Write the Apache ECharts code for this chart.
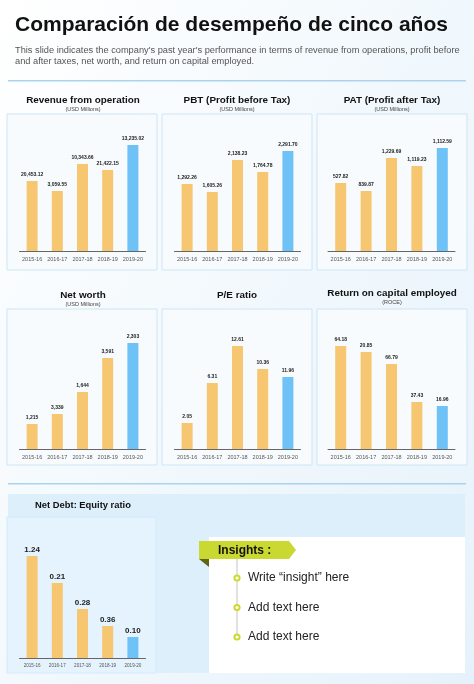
<!DOCTYPE html>
<html><head><meta charset="utf-8">
<script src="https://cdn.jsdelivr.net/npm/echarts@6/dist/echarts.min.js"></script>
<style>
html,body{margin:0;padding:0;width:474px;height:684px;overflow:hidden;background:linear-gradient(120deg,#ffffff 0%,#f3f9fd 45%,#e6f2fb 100%);}
#c{width:474px;height:684px;}
</style>
</head><body><div id="c"></div><script>
// ---------- data ----------
const categories = ['2015-16', '2016-17', '2017-18', '2018-19', '2019-20'];

const revenueLabels = ['20,453.12', '3,059.55', '10,343.66', '21,422.15', '13,235.02'];
const revenueHeights = [70, 60, 87, 81, 106];

const pbtLabels = ['1,292.26', '1,605.26', '2,138.23', '1,764.78', '2,291.70'];
const pbtHeights = [67, 59, 91, 79, 100];

const patLabels = ['527.82', '839.87', '1,229.69', '1,119.23', '1,112.59'];
const patHeights = [68, 60, 93, 85, 103];

const netWorthLabels = ['1,215', '3,339', '1,644', '3,591', '2,303'];
const netWorthHeights = [25, 35, 57, 91, 106];

const peLabels = ['2.05', '6.31', '12.61', '10.36', '11.96'];
const peHeights = [26, 66, 103, 80, 72];

const roceLabels = ['64.18', '20.85', '66.79', '37.43', '16.96'];
const roceHeights = [103, 97, 85, 47, 43];

const debtLabels = ['1.24', '0.21', '0.28', '0.36', '0.10'];
const debtHeights = [102, 75, 49, 32, 21];

const insights = ['Write \u201cinsight\u201d here', 'Add text here', 'Add text here'];

// ---------- layout ----------
const FONT = '"Liberation Sans", Arial, sans-serif';
const ORANGE = '#f6c770';
const BLUE = '#6fc2f6';
const colLeft = [19.5, 174.5, 328];
const colCenter = [83, 237, 392];
const boxX = [7, 162, 317];
const panels = [
  {t: 'Revenue from operation', s: '(USD Millions)', lab: revenueLabels, h: revenueHeights, c: 0, top: 131, boxTop: 114, ty: 100},
  {t: 'PBT (Profit before Tax)', s: '(USD Millions)', lab: pbtLabels, h: pbtHeights, c: 1, top: 131, boxTop: 114, ty: 100},
  {t: 'PAT (Profit after Tax)', s: '(USD Millions)', lab: patLabels, h: patHeights, c: 2, top: 131, boxTop: 114, ty: 100},
  {t: 'Net worth', s: '(USD Millions)', lab: netWorthLabels, h: netWorthHeights, c: 0, top: 329, boxTop: 309, ty: 295},
  {t: 'P/E ratio', s: '', lab: peLabels, h: peHeights, c: 1, top: 329, boxTop: 309, ty: 295},
  {t: 'Return on capital employed', s: '(ROCE)', lab: roceLabels, h: roceHeights, c: 2, top: 329, boxTop: 309, ty: 293},
  {t: 'Net Debt: Equity ratio', s: '', lab: debtLabels, h: debtHeights, c: 0, top: 538, boxTop: 517, ty: 505, big: true}
];

const grid = [], xAxis = [], yAxis = [], series = [], graphic = [];

// header
graphic.push({type: 'text', left: 15, top: 15, z: 100, style: {text: 'Comparación de desempeño de cinco años', font: 'bold 21px ' + FONT, fill: '#111'}});
graphic.push({type: 'text', left: 15, top: 45, z: 100, style: {text: "This slide indicates the company's past year's performance in terms of revenue from operations, profit before\nand after taxes, net worth, and return on capital employed.", font: '9.25px ' + FONT, fill: '#555', lineHeight: 11}});
graphic.push({type: 'rect', shape: {x: 8, y: 80, width: 458, height: 1.6}, style: {fill: '#a9d3ef'}, z: 1});
graphic.push({type: 'rect', shape: {x: 8, y: 483, width: 458, height: 1.6}, style: {fill: '#a9d3ef'}, z: 1});

// bottom section backgrounds
graphic.push({type: 'rect', shape: {x: 8, y: 494, width: 457, height: 179}, style: {fill: '#ddeffb'}, z: -20});
graphic.push({type: 'rect', shape: {x: 209, y: 537, width: 256, height: 136}, style: {fill: '#ffffff'}, z: -15});

panels.forEach((p, i) => {
  const isDebt = !!p.big;
  const bx = boxX[p.c];
  const bw = isDebt ? 149 : 150;
  const bh = 156;
  graphic.push({type: 'rect', shape: {x: bx, y: p.boxTop, width: bw, height: bh},
    style: {fill: isDebt ? '#e4f3fd' : '#f8fbfe', stroke: isDebt ? '#d3eafa' : '#cde5f6', lineWidth: 1}, z: -10});
  graphic.push({type: 'text', x: colCenter[p.c], y: p.ty, z: 100,
    style: {text: p.t, font: 'bold ' + (isDebt ? 9.4 : 9.9) + 'px ' + FONT, fill: '#111', align: 'center', verticalAlign: 'middle'}});
  if (p.s) {
    graphic.push({type: 'text', x: colCenter[p.c], y: p.ty + 9.5, z: 100,
      style: {text: p.s, font: '5.5px ' + FONT, fill: '#444', align: 'center', verticalAlign: 'middle'}});
  }
  grid.push({left: colLeft[p.c], width: p.c === 2 ? 127 : 126, top: p.top, height: 120});
  xAxis.push({type: 'category', gridIndex: i, data: categories,
    axisLine: {lineStyle: {color: '#666', width: 1}}, axisTick: {show: false},
    axisLabel: {fontSize: isDebt ? 4.6 : 5.5, color: '#555', margin: isDebt ? 5 : 5, fontFamily: FONT, interval: 0}});
  yAxis.push({type: 'value', gridIndex: i, min: 0, max: 120, show: false});
  const labs = p.lab;
  series.push({type: 'bar', xAxisIndex: i, yAxisIndex: i, data: p.h, barWidth: 11,
    itemStyle: {color: (d) => d.dataIndex === categories.length - 1 ? BLUE : ORANGE},
    label: {show: true, position: 'top', distance: isDebt ? 2.5 : 3.5,
      formatter: (d) => labs[d.dataIndex],
      fontSize: isDebt ? 8 : 5, fontWeight: 'bold', color: '#222', fontFamily: FONT},
    silent: true, animation: false});
});

// insights ribbon
graphic.push({type: 'polygon', z: 50, shape: {points: [[199, 541], [289, 541], [296, 550], [289, 559], [199, 559]]}, style: {fill: '#cad832'}});
graphic.push({type: 'polygon', z: 50, shape: {points: [[199, 559], [209, 559], [209, 567]]}, style: {fill: '#5f6515'}});
graphic.push({type: 'text', x: 218, y: 550.5, z: 100, style: {text: 'Insights :', font: 'bold 12px ' + FONT, fill: '#111', verticalAlign: 'middle'}});
graphic.push({type: 'line', z: 40, shape: {x1: 237, y1: 559, x2: 237, y2: 638}, style: {stroke: '#c4c4c4', lineWidth: 1}});
insights.forEach((txt, k) => {
  const y = 578 + k * 29.5;
  graphic.push({type: 'circle', z: 60, shape: {cx: 237, cy: y, r: 2.6}, style: {fill: '#ffffff', stroke: '#cdd92e', lineWidth: 2}});
  graphic.push({type: 'text', x: 248, y: y, z: 100, style: {text: txt, font: '12px ' + FONT, fill: '#222', verticalAlign: 'middle'}});
});

const chart = echarts.init(document.getElementById('c'), null, {renderer: 'canvas'});
chart.setOption({backgroundColor: 'transparent', animation: false, grid, xAxis, yAxis, series, graphic});
</script></body></html>
